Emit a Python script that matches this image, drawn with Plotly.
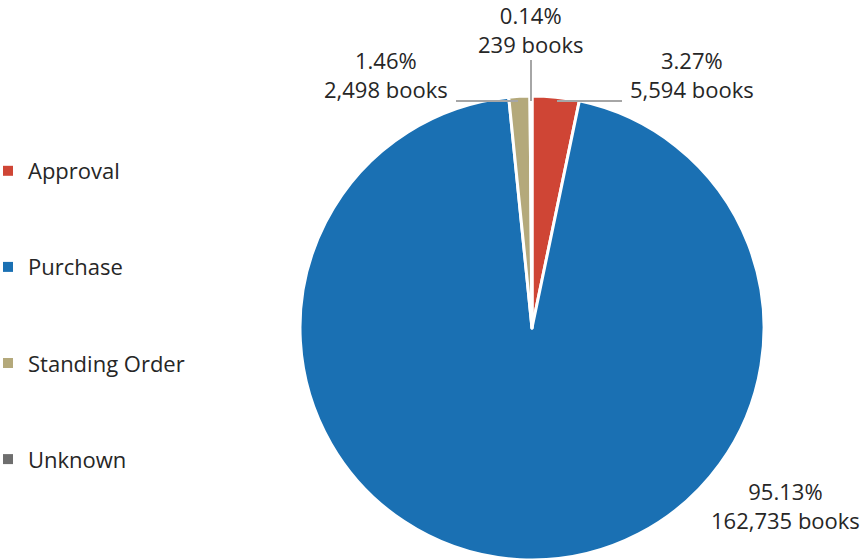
import plotly.graph_objects as go

categories = ["Approval", "Purchase", "Standing Order", "Unknown"]
books = [5594, 162735, 2498, 239]
colors = ["#CF4535", "#1A70B3", "#B4A97B", "#6E6E6E"]

W, H = 866, 560
FONT = "Open Sans"
TXT = "#262626"

total = sum(books)
label_texts = [f"{v / total * 100:.2f}%<br>{v:,} books" for v in books]

# label placement (pixel centres of each text block) and leader lines
label_pos = {"Approval": (692, 75), "Purchase": (785, 505),
             "Standing Order": (386, 75), "Unknown": (530, 29)}
leader_lines = [((557, 101), (622, 101)),
                ((456, 101), (518, 101)),
                ((531, 60), (531, 101))]

fig = go.Figure()
fig.add_trace(go.Pie(
    labels=categories, values=books, sort=False, direction="clockwise",
    rotation=0, textinfo="none", hoverinfo="label+value+percent",
    marker=dict(colors=colors, line=dict(color="white", width=3)),
    domain=dict(x=[(532 - 232) / W, (532 + 232) / W], y=[0, 464 / H]),
    showlegend=False,
))

for i, (c, col) in enumerate(zip(categories, colors)):
    fig.add_trace(go.Scatter(
        x=[None], y=[None], mode="markers", name=c, legendgroup=f"g{i}",
        marker=dict(symbol="square", size=10, color=col),
        showlegend=True,
    ))

for c, t in zip(categories, label_texts):
    px, py = label_pos[c]
    fig.add_annotation(x=px / W, y=1 - py / H, xref="paper", yref="paper",
                       text=t, showarrow=False, xanchor="center", yanchor="middle",
                       font=dict(family=FONT, size=22, color=TXT), align="center")

for (x0, y0), (x1, y1) in leader_lines:
    fig.add_shape(type="line", xref="paper", yref="paper",
                  x0=x0 / W, y0=1 - y0 / H, x1=x1 / W, y1=1 - y1 / H,
                  line=dict(color="#A6A6A6", width=2))

fig.update_layout(
    width=W, height=H, margin=dict(l=0, r=0, t=0, b=0, autoexpand=False),
    paper_bgcolor="white", plot_bgcolor="white",
    xaxis=dict(visible=False), yaxis=dict(visible=False),
    legend=dict(x=-12 / W, xanchor="left", y=1 - 150 / H, yanchor="top",
                traceorder="grouped", tracegroupgap=64.5,
                font=dict(family=FONT, size=22, color=TXT),
                bgcolor="rgba(0,0,0,0)"),
    font=dict(family=FONT, color=TXT),
)

fig.write_html("out.html", config={"displayModeBar": False},
               post_script="document.body.style.margin='0';"
                           "document.body.style.overflow='hidden';")
